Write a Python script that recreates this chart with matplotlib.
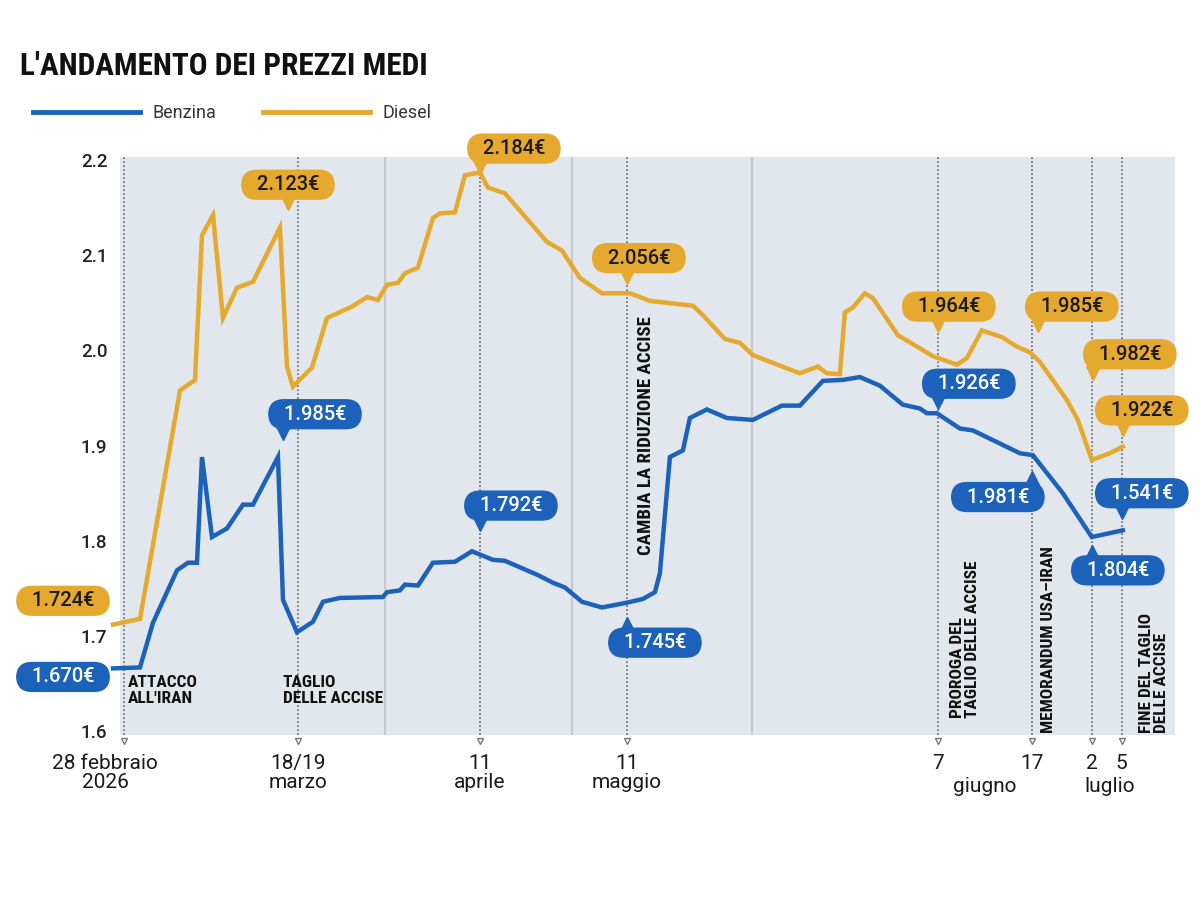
import matplotlib.pyplot as plt
from matplotlib.lines import Line2D

plt.rcParams['font.family'] = ['Roboto Condensed', 'Roboto', 'DejaVu Sans']

# posizione sulla linea del tempo del grafico (scala non uniforme, come nell'originale)
t_diesel = [-1.1, 1.6, 5.6, 7.1, 7.8, 8.9, 9.9, 11.3, 12.9, 15.6, 16.3, 16.9, 18.8, 20.3,
            22.8, 24.3, 25.4, 26.3, 27.4, 28.1, 29.4, 30.9, 31.6, 33.1, 34.1, 35.6, 36.4,
            38.1, 42.3, 43.8, 45.6, 47.8, 50.6, 52.6, 56.9, 57.9, 60.1, 61.6, 62.9, 65.6,
            67.6, 69.4, 70.3, 71.6, 72.1, 72.9, 74.1, 74.9, 77.4, 80.9, 83.3, 84.3, 85.8,
            87.8, 89.3, 90.6, 91.6, 94.3, 95.4, 96.8, 98.6, 99.9]
diesel = [1.712, 1.718, 1.958, 1.969, 2.121, 2.142, 2.034, 2.066, 2.072, 2.129,
          1.983, 1.962, 1.982, 2.034, 2.046, 2.056, 2.053, 2.069, 2.071, 2.081,
          2.087, 2.139, 2.144, 2.145, 2.184, 2.187, 2.171, 2.165, 2.114, 2.105,
          2.076, 2.060, 2.060, 2.052, 2.047, 2.037, 2.012, 2.008, 1.995, 1.984,
          1.976, 1.983, 1.976, 1.975, 2.040, 2.045, 2.060, 2.055, 2.016, 1.994,
          1.985, 1.992, 2.021, 2.014, 2.004, 1.998, 1.988, 1.948, 1.927, 1.885,
          1.892, 1.899]

t_benzina = [-1.1, 1.6, 2.9, 5.3, 6.4, 7.3, 7.8, 8.8, 10.3, 11.9, 12.9, 15.4, 15.9, 17.3,
             18.9, 19.9, 21.6, 25.9, 26.3, 27.6, 28.1, 29.4, 30.9, 33.1, 34.8, 36.9, 38.1,
             41.4, 42.9, 44.1, 45.8, 47.8, 50.3, 51.9, 53.1, 53.6, 54.6, 55.9, 56.6, 58.3,
             60.3, 62.9, 65.8, 67.6, 69.9, 71.9, 73.6, 75.6, 77.9, 79.6, 80.3, 81.3, 83.6,
             84.9, 89.6, 90.9, 93.9, 96.8, 99.9]
benzina = [1.666, 1.667, 1.714, 1.769, 1.777, 1.777, 1.888, 1.804, 1.813, 1.838,
           1.838, 1.888, 1.738, 1.704, 1.715, 1.736, 1.740, 1.741, 1.746, 1.748,
           1.754, 1.753, 1.777, 1.778, 1.789, 1.780, 1.779, 1.764, 1.756, 1.751,
           1.736, 1.730, 1.735, 1.739, 1.746, 1.766, 1.888, 1.895, 1.929, 1.938,
           1.929, 1.927, 1.942, 1.942, 1.968, 1.969, 1.972, 1.963, 1.943, 1.939,
           1.934, 1.934, 1.918, 1.916, 1.892, 1.890, 1.850, 1.804, 1.811]

eventi_t = [0, 17.4, 35.6, 50.3, 81.4, 90.8, 96.8, 99.8]
separatori_t = [26.1, 44.8, 62.8]
y_ticks = [1.6, 1.7, 1.8, 1.9, 2.0, 2.1, 2.2]

# testo, x box, y box, x punta, direzione punta
etichette_diesel = [
    ("1.724€", -6.1, 1.737, None, None),
    ("2.123€", 16.4, 2.174, 16.4, "giu"),
    ("2.184€", 39.0, 2.212, 35.6, "giu"),
    ("2.056€", 51.5, 2.097, 50.3, "giu"),
    ("1.964€", 82.5, 2.046, 81.4, "giu"),
    ("1.985€", 94.8, 2.046, 91.4, "giu"),
    ("1.982€", 100.6, 1.996, 96.9, "giu"),
    ("1.922€", 101.8, 1.937, 99.9, "giu"),
]
etichette_benzina = [
    ("1.670€", -6.1, 1.657, None, None),
    ("1.985€", 19.1, 1.933, 15.9, "giu"),
    ("1.792€", 38.7, 1.837, 35.6, "giu"),
    ("1.745€", 53.1, 1.693, 50.3, "su"),
    ("1.926€", 84.5, 1.965, 81.4, "giu"),
    ("1.981€", 87.4, 1.846, 90.8, "su"),
    ("1.541€", 101.8, 1.850, 99.8, "giu"),
    ("1.804€", 99.4, 1.769, 96.8, "su"),
]

BLU = '#1c62ba'
ORO = '#e6a92f'
SFONDO = '#e2e7ed'
LARGO = ['Roboto', 'DejaVu Sans']

fig = plt.figure(figsize=(12, 9), dpi=100)
ax = fig.add_axes([0.1, 0.1833, 0.879, 0.6423])
ax.set_facecolor(SFONDO)
ax.set_xlim(-0.4, 105.1)
ax.set_ylim(1.596, 2.2032)
for s in ax.spines.values():
    s.set_visible(False)
ax.set_xticks([])
ax.set_yticks(y_ticks)
ax.set_yticklabels([f"{v:.1f}" for v in y_ticks], fontsize=13.5, color='#222222',
                   family=LARGO, fontweight='medium')
ax.tick_params(axis='y', length=0, pad=9)

for x in separatori_t:
    ax.axvline(x, color='#c5cad1', lw=1.6, zorder=1)
for x in eventi_t:
    ax.axvline(x, color='#666666', lw=1.2, ls=(0, (1, 1.4)), zorder=1)
    ax.plot([x], [1.590], marker='v', ms=5, mfc='none', mec='#777777', mew=1,
            clip_on=False, zorder=3)

ax.plot(t_diesel, diesel, color=ORO, lw=3.2, solid_joinstyle='miter', clip_on=False, zorder=4)
ax.plot(t_benzina, benzina, color=BLU, lw=3.2, solid_joinstyle='miter', clip_on=False, zorder=4)


def etichetta(lista, colore, col_testo):
    for testo, xb, yb, xp, verso in lista:
        ax.text(xb, yb, "  " + testo + "  ", ha='center', va='center', fontsize=14.5,
                color=col_testo, zorder=6, family=LARGO, fontweight='medium',
                bbox=dict(boxstyle='round,pad=0.28,rounding_size=0.8', fc=colore, ec='none'))
        if verso == "giu":
            ax.plot([xp], [yb - 0.0195], marker='v', ms=10, color=colore, clip_on=False, zorder=5)
        elif verso == "su":
            ax.plot([xp], [yb + 0.0195], marker='^', ms=10, color=colore, clip_on=False, zorder=5)


etichetta(etichette_diesel, ORO, '#1a1a1a')
etichetta(etichette_benzina, BLU, 'white')

# eventi
ev = dict(fontsize=12.5, fontweight='bold', color='#111111', zorder=5, linespacing=1.05)
ax.text(0.4, 1.659, "ATTACCO\nALL'IRAN", ha='left', va='top', **ev)
ax.text(15.9, 1.659, "TAGLIO\nDELLE ACCISE", ha='left', va='top', **ev)
ax.text(52.2, 1.911, "CAMBIA LA RIDUZIONE ACCISE", rotation=90, ha='center', va='center',
        **dict(ev, fontsize=13.5))
ax.text(84.1, 1.614, "PROROGA DEL\nTAGLIO DELLE ACCISE", rotation=90, ha='center', va='bottom',
        multialignment='left', **ev)
ax.text(92.5, 1.598, "MEMORANDUM USA–IRAN", rotation=90, ha='center', va='bottom', **ev)
ax.text(103.0, 1.598, "FINE DEL TAGLIO\nDELLE ACCISE", rotation=90, ha='center', va='bottom',
        multialignment='left', **ev)

# etichette asse x
tr = ax.get_xaxis_transform()
lab = dict(fontsize=15, color='#1a1a1a', transform=tr, ha='center', va='top',
           linespacing=1.05, family=LARGO)
ax.text(-1.9, -0.032, "28 febbraio\n2026", **lab)
ax.text(17.4, -0.032, "18/19\nmarzo", **lab)
ax.text(35.6, -0.032, "11\naprile", **lab)
ax.text(50.3, -0.032, "11\nmaggio", **lab)
ax.text(81.4, -0.032, "7", **lab)
ax.text(90.8, -0.032, "17", **lab)
ax.text(96.8, -0.032, "2", **lab)
ax.text(99.8, -0.032, "5", **lab)
ax.text(86.1, -0.072, "giugno", **lab)
ax.text(98.6, -0.072, "luglio", **lab)

# titolo e legenda
fig.text(0.017, 1 - 66 / 900, "L'ANDAMENTO DEI PREZZI MEDI", fontsize=22.5, fontweight='bold',
         color='#111111', va='center')
maniglie = [Line2D([], [], color=BLU, lw=3.5), Line2D([], [], color=ORO, lw=3.5)]
fig.legend(maniglie, ["Benzina", "Diesel"], loc='center left',
           bbox_to_anchor=(33 / 1200, 1 - 113 / 900), ncol=2, frameon=False,
           handlelength=5.9, handletextpad=0.7, columnspacing=2.6, borderpad=0,
           borderaxespad=0, prop=dict(family=LARGO, size=13), labelcolor='#333333')

fig.savefig('out.png', dpi=100)
